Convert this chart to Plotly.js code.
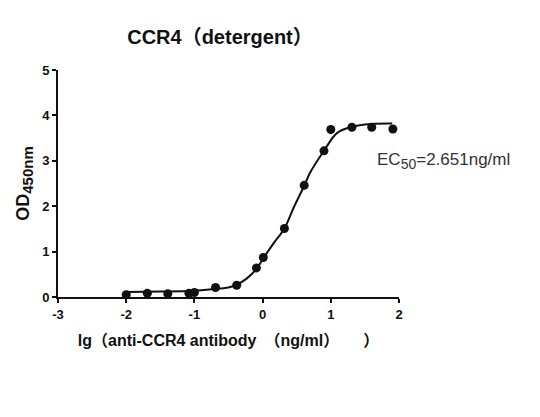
<!DOCTYPE html>
<html>
<head>
<meta charset="utf-8">
<script src="https://cdn.plot.ly/plotly-3.0.1.min.js"></script>
<style>
  html, body { margin: 0; padding: 0; background: #fff; }
  #chart { width: 540px; height: 417px; }
</style>
</head>
<body>
<div id="chart"></div>
<script>
// measured points, lg(ng/ml) vs OD450
const doseLog = [-2.0, -1.69, -1.39, -1.08, -1.0, -0.69, -0.38, -0.09, 0.01, 0.32, 0.61, 0.9, 1.0, 1.31, 1.6, 1.91];
const odValues = [0.05, 0.08, 0.07, 0.08, 0.1, 0.21, 0.26, 0.64, 0.87, 1.51, 2.46, 3.22, 3.69, 3.74, 3.74, 3.70];

// fitted curve
const fitLog = [-2.0, -1.5, -1.0, -0.75, -0.5, -0.38, -0.23, -0.09, 0.01, 0.16, 0.32, 0.45, 0.61, 0.69, 0.9, 1.09, 1.31, 1.6, 1.9];
const fitOd = [0.11, 0.12, 0.14, 0.17, 0.21, 0.27, 0.41, 0.62, 0.85, 1.18, 1.51, 1.95, 2.45, 2.72, 3.22, 3.61, 3.75, 3.81, 3.82];

const xTicks = [-3, -2, -1, 0, 1, 2];
const yTicks = [0, 1, 2, 3, 4, 5];

const fontFam = 'Arial, "Liberation Sans", "Noto Sans CJK SC", sans-serif';

const data = [
  {
    x: fitLog, y: fitOd,
    type: 'scatter', mode: 'lines',
    line: { color: '#111', width: 2, shape: 'spline', smoothing: 1 },
    hoverinfo: 'skip'
  },
  {
    x: doseLog, y: odValues,
    type: 'scatter', mode: 'markers',
    marker: { color: '#111', size: 9 }
  }
];

const axisCommon = {
  showgrid: false,
  zeroline: false,
  showline: true,
  linecolor: '#111',
  linewidth: 2,
  ticks: 'outside',
  ticklen: 4,
  tickwidth: 2,
  tickcolor: '#111',
  tickfont: { family: fontFam, size: 13, color: '#111', weight: 'bold' },
  fixedrange: true
};

const layout = {
  width: 540,
  height: 417,
  margin: { l: 58, r: 141, t: 70, b: 120 },
  paper_bgcolor: '#fff',
  plot_bgcolor: '#fff',
  showlegend: false,
  title: {
    text: '<b>CCR4（detergent）</b>',
    font: { family: fontFam, size: 20, color: '#111' },
    x: 220 / 540, xanchor: 'center',
    y: 1 - 37 / 417, yanchor: 'middle'
  },
  xaxis: Object.assign({}, axisCommon, {
    range: [-3, 2],
    tickvals: xTicks,
    ticktext: xTicks.map(String),
    title: {
      text: '<b>lg（anti-CCR4 antibody\u3000（ng/ml）\u3000\u3000）</b>',
      font: { family: fontFam, size: 16, color: '#111' },
      standoff: 14
    }
  }),
  yaxis: Object.assign({}, axisCommon, {
    range: [0, 5],
    tickvals: yTicks,
    ticktext: yTicks.map(String),
    title: {
      text: '<b>OD<sub><span style="font-size:15px">450nm</span></sub></b>',
      font: { family: fontFam, size: 18, color: '#111' },
      standoff: 8
    }
  }),
  annotations: [{
    text: 'EC<sub><span style="font-size:14px">50</span></sub>=2.651ng/ml',
    xref: 'paper', yref: 'paper',
    x: (375 - 58) / 341, y: 0.6,
    xanchor: 'left', yanchor: 'middle',
    showarrow: false,
    font: { family: fontFam, size: 17, color: '#333' }
  }]
};

Plotly.newPlot('chart', data, layout, { staticPlot: true, displayModeBar: false });
</script>
</body>
</html>
